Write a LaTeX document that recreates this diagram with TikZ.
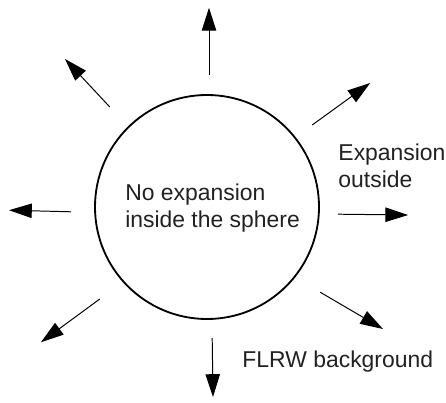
\documentclass[tikz,border=0pt]{standalone}
\usepackage{fontspec}
\setmainfont{Liberation Sans}
\usetikzlibrary{arrows.meta, positioning}

\begin{document}
\begin{tikzpicture}[
  every node/.style={font=\fontsize{16.3}{18.6}\selectfont},
  spherebox/.style={draw, circle, line width=1.3pt, minimum size=5.6cm, inner sep=0pt},
  labeltext/.style={align=left, inner sep=0pt, text=black!87},
  arrow/.style={-{Triangle[length=5.7mm, width=3.6mm]}, line width=0.7pt},
]
\useasboundingbox (-5.175, -4.875) rectangle (5.975, 5.175);

% ---- Sphere ----
\node[spherebox] (sphere) at (0, 0) {};
\node[labeltext, anchor=north west] (inside) at (-2.05, 0.575) {No expansion\\inside the sphere};

% ---- Outward arrows ----
\coordinate (up_a) at (0.05, 3.3);     \coordinate (up_b) at (0.05, 4.98);
\coordinate (ul_a) at (-2.43, 2.5);    \coordinate (ul_b) at (-3.55, 3.7);
\coordinate (ur_a) at (2.63, 2.05);    \coordinate (ur_b) at (4.08, 3.1);
\coordinate (lt_a) at (-3.4, -0.12);   \coordinate (lt_b) at (-4.95, -0.08);
\coordinate (rt_a) at (3.28, -0.18);   \coordinate (rt_b) at (5.03, -0.2);
\coordinate (ll_a) at (-2.68, -2.3);   \coordinate (ll_b) at (-4.15, -3.38);
\coordinate (lr_a) at (2.83, -2.13);   \coordinate (lr_b) at (4.4, -3.05);
\coordinate (dn_a) at (0.13, -3.28);   \coordinate (dn_b) at (0.15, -4.75);

\draw[arrow] (up_a) -- (up_b);
\draw[arrow] (ul_a) -- (ul_b);
\draw[arrow] (ur_a) -- (ur_b);
\draw[arrow] (lt_a) -- (lt_b);
\draw[arrow] (rt_a) -- (rt_b);
\draw[arrow] (ll_a) -- (ll_b);
\draw[arrow] (lr_a) -- (lr_b);
\draw[arrow] (dn_a) -- (dn_b);

% ---- Labels ----
\node[labeltext, anchor=north west] (outside) at (3.28, 1.575) {Expansion\\outside};
\node[labeltext, anchor=base west] (flrw) at (0.88, -4.0) {FLRW background};

\end{tikzpicture}
\end{document}
